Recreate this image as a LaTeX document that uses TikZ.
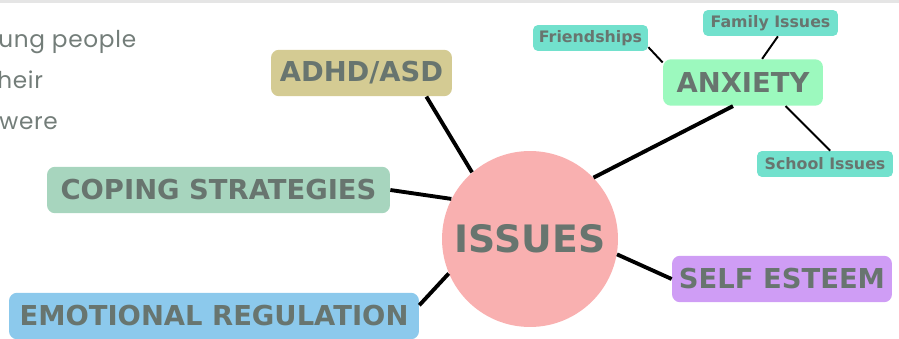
\documentclass[tikz,border=0pt]{standalone}
\usepackage{fontspec}
\setmainfont{DejaVu Sans}
\newfontfamily\notefont[LetterSpace=3]{Poppins}
\usetikzlibrary{positioning}
\definecolor{inkgray}{HTML}{68756F}
\definecolor{notegray}{HTML}{737D79}
\definecolor{issuepink}{HTML}{F9B0B0}
\definecolor{adhdkhaki}{HTML}{D4CB93}
\definecolor{copegreen}{HTML}{A7D5BE}
\definecolor{emoblue}{HTML}{8CC9EC}
\definecolor{selfviolet}{HTML}{CF9DF5}
\definecolor{anxmint}{HTML}{9CF9BE}
\definecolor{subteal}{HTML}{72E1CD}
\tikzset{
    % central topic
    hub/.style={
           circle,
           fill=issuepink,
           minimum size=3.52cm,
           text=inkgray,
           font=\bfseries\fontsize{21.5}{24}\selectfont},
    % main branches
    topic/.style={
           rectangle,
           rounded corners=0.16cm,
           text=inkgray,
           inner sep=0pt,
           minimum height=0.93cm,
           font=\bfseries\fontsize{15.6}{18}\selectfont},
    % small branches
    subtopic/.style={
           rectangle,
           rounded corners=0.1cm,
           fill=subteal,
           text=inkgray,
           inner sep=0pt,
           minimum height=0.52cm,
           font=\bfseries\fontsize{9}{11}\selectfont},
    % connectors
    link/.style={
           line width=2.2pt,
           black},
    sublink/.style={
           line width=1.1pt,
           black},
    note/.style={
           anchor=base west,
           inner sep=0pt,
           text=notegray,
           font=\notefont\fontsize{13.2}{16}\selectfont}
}
\begin{document}
\begin{tikzpicture}[x=0.02cm, y=-0.02cm]
 \useasboundingbox (0,0) rectangle (899,338);
 \fill[black!10] (0,0) rectangle (899,3);

 % cut-off notes at the left
 \node[note] (line1) at (-2,47) {ung people};
 \node[note] (line2) at (-3,88) {heir};
 \node[note] (line3) at (-1,129) {were};

 \node[hub] (issues) at (530,239) {ISSUES};
 \node[topic, fill=adhdkhaki, minimum width=3.62cm] (adhd) at (361.5,73) {ADHD/ASD};
 \node[topic, fill=copegreen, minimum width=6.86cm] (coping) at (218.5,190) {COPING STRATEGIES};
 \node[topic, fill=emoblue, minimum width=8.2cm] (emotion) at (214,316) {EMOTIONAL REGULATION};
 \node[topic, fill=selfviolet, minimum width=4.4cm] (selfesteem) at (782,279) {SELF ESTEEM};
 \node[topic, fill=anxmint, minimum width=3.2cm] (anxiety) at (743,82.5) {ANXIETY};

 \node[subtopic, minimum width=2.3cm] (friends) at (590.5,38) {Friendships};
 \node[subtopic, minimum width=2.7cm] (family) at (770.5,23) {Family Issues};
 \node[subtopic, minimum width=2.72cm] (school) at (825,164) {School Issues};

 \draw[link] (issues.131) -- (adhd.-20);
 \draw[link] (issues.153) -- (coping.east);
 \draw[link] (issues.203) -- (emotion.3);
 \draw[link] (issues.-10) -- (selfesteem.west);
 \draw[link] (issues.44) -- (anxiety.-113);

 \draw[sublink] (anxiety.166) -- (friends.-9);
 \draw[sublink] (anxiety.51) -- (family.-61);
 \draw[sublink] (anxiety.-29) -- (school.69);
\end{tikzpicture}
\end{document}
